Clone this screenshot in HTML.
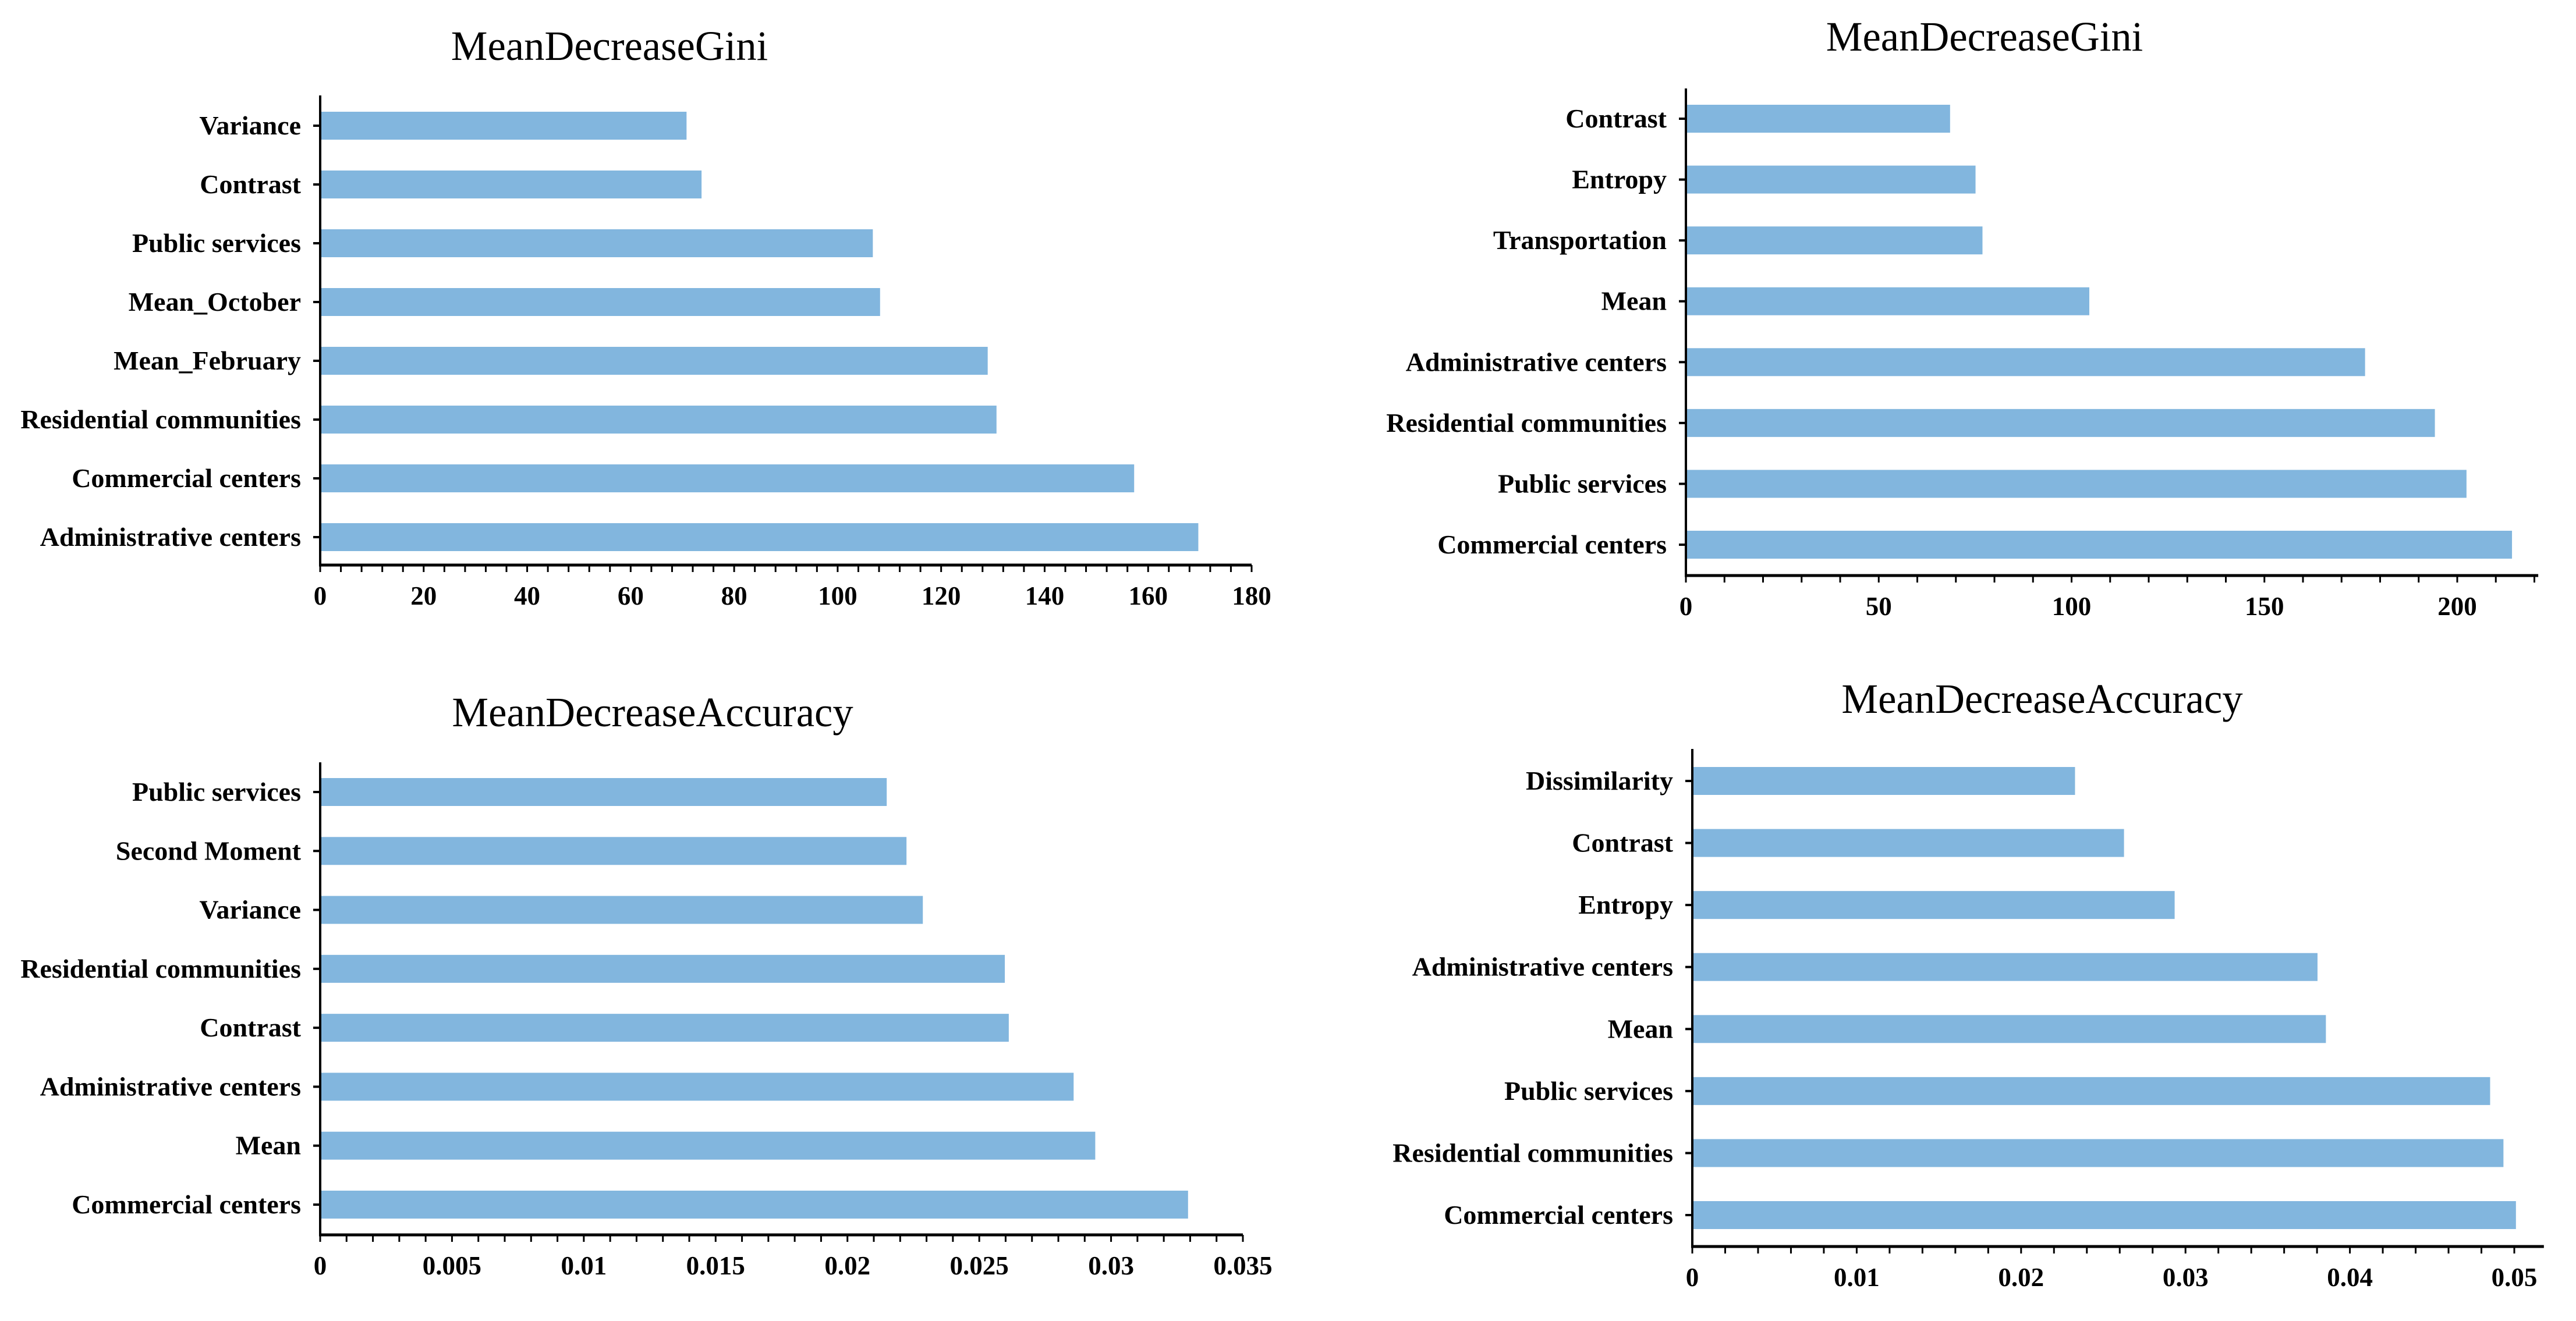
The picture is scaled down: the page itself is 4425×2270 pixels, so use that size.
<!DOCTYPE html>
<html><head><meta charset="utf-8"><style>
html,body{margin:0;padding:0;background:#fff;}
svg{display:block;}
text{font-family:"Liberation Serif",serif;fill:#000;}
</style></head><body>
<svg id="root" width="4425" height="2270" viewBox="0 0 4425 2270" xmlns="http://www.w3.org/2000/svg"></svg>
<script>
// Panel 1: MeanDecreaseGini (left)
const p1Categories = ["Variance","Contrast","Public services","Mean_October","Mean_February","Residential communities","Commercial centers","Administrative centers"];
const p1Values = [70.8,73.7,106.8,108.2,129,130.7,157.3,169.7];
const p1TickLabels = ["0","20","40","60","80","100","120","140","160","180"];
const p1TickValues = [0,20,40,60,80,100,120,140,160,180];
// Panel 2: MeanDecreaseGini (right)
const p2Categories = ["Contrast","Entropy","Transportation","Mean","Administrative centers","Residential communities","Public services","Commercial centers"];
const p2Values = [68.5,75.1,76.9,104.6,176.1,194.2,202.4,214.2];
const p2TickLabels = ["0","50","100","150","200"];
const p2TickValues = [0,50,100,150,200];
// Panel 3: MeanDecreaseAccuracy (left)
const p3Categories = ["Public services","Second Moment","Variance","Residential communities","Contrast","Administrative centers","Mean","Commercial centers"];
const p3Values = [0.02149,0.02224,0.02286,0.02597,0.02612,0.02858,0.0294,0.03292];
const p3TickLabels = ["0","0.005","0.01","0.015","0.02","0.025","0.03","0.035"];
const p3TickValues = [0,0.005,0.01,0.015,0.02,0.025,0.03,0.035];
// Panel 4: MeanDecreaseAccuracy (right)
const p4Categories = ["Dissimilarity","Contrast","Entropy","Administrative centers","Mean","Public services","Residential communities","Commercial centers"];
const p4Values = [0.02328,0.02626,0.02934,0.03803,0.03854,0.04853,0.04934,0.0501];
const p4TickLabels = ["0","0.01","0.02","0.03","0.04","0.05"];
const p4TickValues = [0,0.01,0.02,0.03,0.04,0.05];

const NS="http://www.w3.org/2000/svg";
const root=document.getElementById('root');
function mk(tag,attrs,parent){const e=document.createElementNS(NS,tag);for(const k in attrs)e.setAttribute(k,attrs[k]);parent.appendChild(e);return e;}

function drawPanel(cfg,cats,vals,tickVals,tickLabs){
  const g=mk('g',{},root);
  
  
  const xs=v=>cfg.x0+(v-0)/(cfg.vRef)*(cfg.xRef-cfg.x0);
  const n=cats.length;
  const step=(cfg.yLast-cfg.yFirst)/(n-1);
  const ys=i=>cfg.yFirst+i*step;
  const t=mk('text',{transform:`translate(${cfg.tx},${cfg.ty}) scale(0.98,1)`,'text-anchor':'middle','font-size':72},g);
  t.textContent=cfg.title;
  
  
  for(let i=0;i<n;i++){
    const r=mk('rect',{x:cfg.x0,y:ys(i)-24,width:xs(vals[i])-cfg.x0,height:48,fill:'#82b6de'},g);
    
    
    const tk=mk('line',{x1:cfg.x0-12,x2:cfg.x0,y1:ys(i),y2:ys(i),stroke:'#000','stroke-width':4},g);
    
    
    const lb=mk('text',{transform:`translate(${cfg.x0-33},${ys(i)+15}) scale(1,1)`,'text-anchor':'end','font-size':46,'font-weight':'bold'},g);
    lb.textContent=cats[i];
    
    
  }
  const ya=mk('line',{x1:cfg.x0,x2:cfg.x0,y1:cfg.yTop,y2:cfg.yAxis+2,stroke:'#000','stroke-width':4},g);
  
  
  const xEnd=xs(cfg.vMax);
  const xa=mk('line',{x1:cfg.x0-2,x2:xEnd,y1:cfg.yAxis,y2:cfg.yAxis,stroke:'#000','stroke-width':5},g);
  
  
  for(let v=0;v<=cfg.vMax+1e-12;v+=cfg.minor){
    const mt=mk('line',{x1:xs(v),x2:xs(v),y1:cfg.yAxis,y2:cfg.yAxis+12,stroke:'#000','stroke-width':3},g);
    
    
  }
  for(let i=0;i<tickVals.length;i++){
    const tl=mk('text',{transform:`translate(${xs(tickVals[i])},${cfg.yAxis+68}) scale(1,1)`,'text-anchor':'middle','font-size':45,'font-weight':'bold'},g);
    tl.textContent=tickLabs[i];
    
    
  }
}

drawPanel({name:'gini-chart-left',title:'MeanDecreaseGini',tx:1047,ty:103,x0:550,xRef:2150,vRef:180,vMax:180,minor:4,yTop:164,yAxis:971,yFirst:216,yLast:923},p1Categories,p1Values,p1TickValues,p1TickLabels);
drawPanel({name:'gini-chart-right',title:'MeanDecreaseGini',tx:3409,ty:87,x0:2896,xRef:4221,vRef:200,vMax:221,minor:10,yTop:152,yAxis:989,yFirst:204,yLast:936},p2Categories,p2Values,p2TickValues,p2TickLabels);
drawPanel({name:'accuracy-chart-left',title:'MeanDecreaseAccuracy',tx:1121,ty:1248,x0:550,xRef:2135,vRef:0.035,vMax:0.035,minor:0.001,yTop:1310,yAxis:2122,yFirst:1361,yLast:2070},p3Categories,p3Values,p3TickValues,p3TickLabels);
drawPanel({name:'accuracy-chart-right',title:'MeanDecreaseAccuracy',tx:3508,ty:1225,x0:2907,xRef:4319,vRef:0.05,vMax:0.0518,minor:0.002,yTop:1287,yAxis:2142,yFirst:1342,yLast:2088},p4Categories,p4Values,p4TickValues,p4TickLabels);
</script>
</body></html>
